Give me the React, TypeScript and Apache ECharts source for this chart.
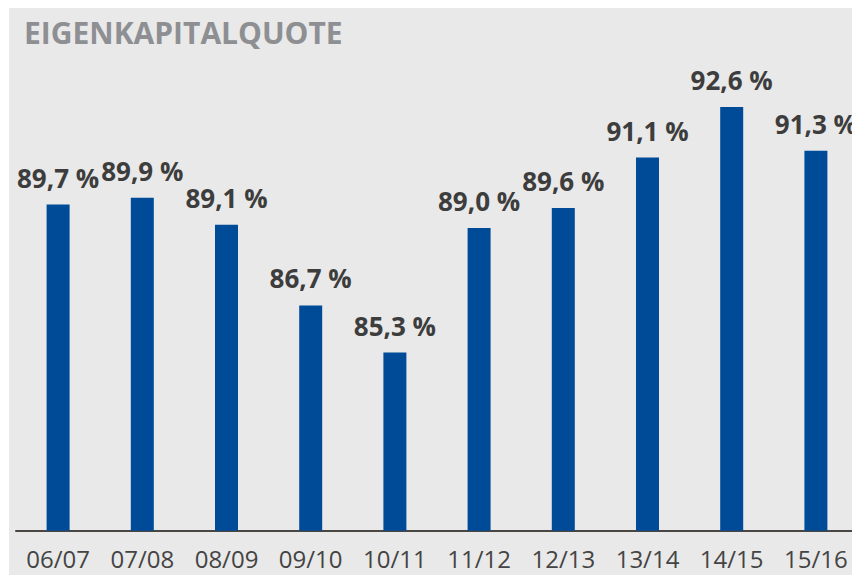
import React, { useEffect, useRef } from "react";
import * as echarts from "echarts";

const categories = ["06/07", "07/08", "08/09", "09/10", "10/11", "11/12", "12/13", "13/14", "14/15", "15/16"];
const equityRatio = [89.7, 89.9, 89.1, 86.7, 85.3, 89.0, 89.6, 91.1, 92.6, 91.3];
const titleText = "EIGENKAPITALQUOTE";

export default function App() {
  const ref = useRef<HTMLDivElement>(null);
  useEffect(() => {
    if (!ref.current) return;
    const chart = echarts.init(ref.current, undefined, { renderer: "svg" });
    chart.setOption({
      animation: false,
      backgroundColor: "#e9e9e9",
      title: {
        text: titleText,
        left: 10,
        top: 4,
        textStyle: {
          fontFamily: "Open Sans",
          fontWeight: "bold",
          fontSize: 30,
          color: "#8e8f93",
        },
      },
      grid: { left: 7, right: 1, top: 18.4, bottom: 44.3 },
      xAxis: {
        type: "category",
        data: categories,
        axisTick: { show: false },
        axisLine: { lineStyle: { color: "#4a4642", width: 2 } },
        axisLabel: {
          interval: 0,
          fontFamily: "Open Sans",
          fontSize: 24,
          lineHeight: 18,
          color: "#444444",
          margin: 19,
        },
      },
      yAxis: {
        type: "value",
        min: 80,
        max: 95,
        show: false,
        splitLine: { show: false },
      },
      series: [
        {
          type: "bar",
          data: equityRatio,
          barWidth: 23,
          itemStyle: { color: "#004b98" },
          label: {
            show: true,
            position: "top",
            distance: 14,
            fontFamily: "Open Sans",
            fontWeight: "bold",
            fontSize: 26,
            color: "#3d3d3d",
            formatter: (p: any) => `${p.value.toFixed(1).replace(".", ",")} %`,
          },
        },
      ],
    });
    return () => chart.dispose();
  }, []);
  return (
    <div
      ref={ref}
      style={{ position: "fixed", left: 9, top: 8, width: 850, height: 567 }}
    />
  );
}
